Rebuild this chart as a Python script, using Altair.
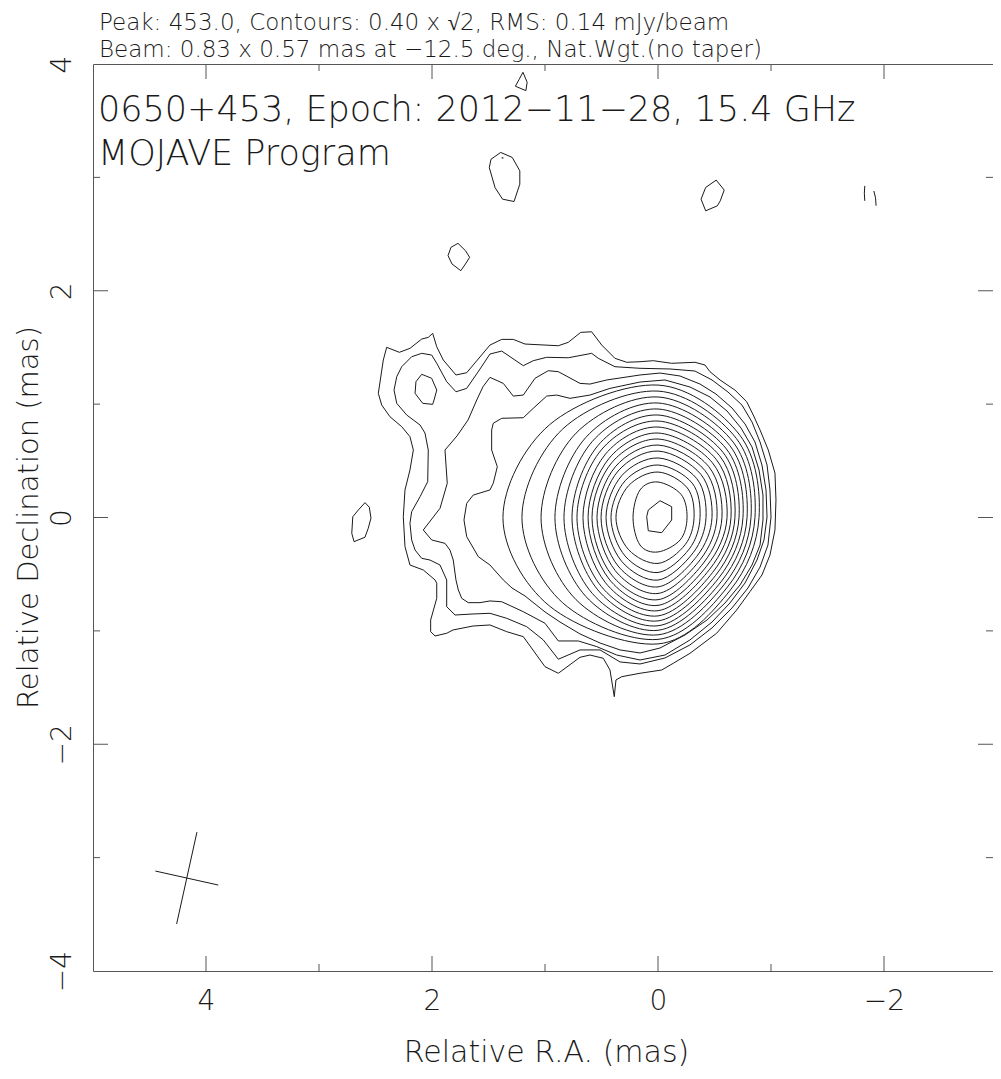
import math
import altair as alt
import pandas as pd

FONT = "DejaVu Sans"
INK = "#1a1a1a"
FRAME = "#555555"

# ---------------- text ----------------
title_lines = ["Peak: 453.0, Contours: 0.40 x \u221a2, RMS: 0.14 mJy/beam",
               "Beam: 0.83 x 0.57 mas at \u221212.5 deg., Nat.Wgt.(no taper)"]
inner_lines = ["0650+453, Epoch: 2012\u221211\u221228, 15.4 GHz", "MOJAVE Program"]

# ---------------- axes ----------------
x_major = [4, 2, 0, -2]
x_minor = [3, 1, -1]
y_major = [2, 0, -2]
y_minor = [3, 1, -1, -3]
y_labels = [4, 2, 0, -2, -4]

# ---------------- beam ----------------
beam_center = (4.17, -3.18)
beam_maj, beam_min, beam_pa = 0.83, 0.57, -12.5

# ---------------- irregular contours (mas) ----------------
c0_x = [2.475, 2.431, 2.401, 2.289, 2.195, 2.091, 2.033, 1.994, 1.958, 1.900, 1.788, 1.693, 1.487, 1.383, 1.281, 1.177,
        0.882, 0.794, 0.684, 0.587, 0.498, 0.381, 0.277, 0.159, 0.042, -0.121, -0.327, -0.416, -0.460, -0.549, -0.681,
        -0.785, -0.843, -0.903, -0.976, -1.035, -1.044, -1.035, -0.991, -0.920, -0.814, -0.696, -0.519, -0.283, -0.135,
        -0.033, 0.159, 0.321, 0.372, 0.387, 0.425, 0.484, 0.602, 0.690, 0.882, 1.000, 1.192, 1.339, 1.487, 1.637, 1.814,
        1.870, 1.973, 2.012, 2.012, 1.958, 1.958, 1.973, 2.077, 2.195, 2.239, 2.254, 2.239, 2.195, 2.165, 2.195, 2.268,
        2.372, 2.445]
c0_y = [1.095, 1.389, 1.501, 1.457, 1.492, 1.574, 1.589, 1.624, 1.506, 1.389, 1.257, 1.277, 1.521, 1.571, 1.571, 1.530,
        1.515, 1.545, 1.633, 1.638, 1.521, 1.404, 1.369, 1.374, 1.383, 1.360, 1.369, 1.345, 1.286, 1.213, 1.124,
        1.021, 0.904, 0.772, 0.595, 0.392, 0.154, -0.110, -0.331, -0.507, -0.654, -0.816, -1.021, -1.198, -1.286,
        -1.345, -1.374, -1.404, -1.433, -1.580, -1.345, -1.242, -1.213, -1.233, -1.374, -1.316, -1.051, -1.007, -0.948, -0.957, -0.992,
        -1.021, -1.045, -1.007, -0.904, -0.713, -0.580, -0.551, -0.463, -0.419, -0.257, 0.007, 0.243, 0.419, 0.595, 0.713, 0.801,
        0.889, 0.992]

c1_x = [2.336, 2.312, 2.268, 2.180, 2.091, 2.003, 1.958, 1.870, 1.788, 1.693, 1.593, 1.487, 1.383, 1.192, 1.104, 0.985,
        0.794, 0.587, 0.528, 0.381, 0.159, -0.106, -0.327, -0.478, -0.619, -0.743, -0.832, -0.903, -0.965, -0.991,
        -1.000, -0.973, -0.903, -0.796, -0.655, -0.478, -0.283, -0.062, 0.159, 0.336, 0.513, 0.690, 0.882, 1.015,
        1.162, 1.339, 1.487, 1.637, 1.796, 1.870, 1.870, 1.929, 2.018, 2.091, 2.150, 2.180, 2.195, 2.180, 2.106,
        2.038, 2.033, 2.062, 2.106, 2.224, 2.312]
c1_y = [1.124, 1.242, 1.330, 1.418, 1.448, 1.433, 1.360, 1.198, 1.109, 1.139, 1.283, 1.442, 1.468, 1.339, 1.383, 1.413,
        1.409, 1.448, 1.404, 1.330, 1.316, 1.310, 1.292, 1.213, 1.107, 0.992, 0.842, 0.666, 0.463, 0.243,
        0.004, -0.243, -0.437, -0.622, -0.798, -0.974, -1.124, -1.239, -1.292, -1.274, -1.168, -1.168, -1.250, -1.080,
        -0.963, -0.889, -0.845, -0.851, -0.860, -0.787, -0.551, -0.419, -0.375, -0.360, -0.287, -0.198, -0.051, 0.051, 0.183,
        0.316, 0.595, 0.745, 0.816, 0.904, 1.007]

c2_x = [1.885, 1.865, 1.929, 2.077, 2.003, 1.885, 1.841, 1.812, 1.788, 1.767, 1.737, 1.679, 1.575, 1.487, 1.383, 1.192,
        1.000, 0.882, 0.705, 0.542, 0.365, 0.159, -0.062, -0.283, -0.478, -0.637, -0.770, -0.876, -0.938, -0.965,
        -0.956, -0.920, -0.858, -0.770, -0.655, -0.513, -0.372, -0.195, -0.018, 0.159, 0.454, 0.602, 0.690, 0.882,
        0.971, 1.088, 1.192, 1.281, 1.369, 1.487, 1.549, 1.604, 1.681, 1.779]
c2_y = [0.595, 0.302, 0.081, -0.110, -0.198, -0.228, -0.287, -0.375, -0.551, -0.639, -0.713, -0.751, -0.751, -0.736, -0.743, -0.831,
        -0.933, -1.089, -1.089, -1.139, -1.213, -1.257, -1.213, -1.080, -0.922, -0.754, -0.578, -0.375, -0.198, 0.004,
        0.243, 0.463, 0.666, 0.825, 0.966, 1.089, 1.177, 1.248, 1.274, 1.257, 1.213, 1.177, 1.183, 1.286,
        1.295, 1.228, 1.080, 1.071, 1.183, 1.236, 1.153, 1.036, 0.860, 0.719]

c2b_x = [2.091, 2.003, 1.958, 1.982, 1.994, 2.082, 2.150, 2.142]
c2b_y = [1.263, 1.228, 1.124, 1.036, 0.998, 1.007, 1.095, 1.198]

c3_x = [1.472, 1.472, 1.458, 1.383, 1.192, 1.104, 0.985, 0.896, 0.779, 0.602, 0.425, 0.159, -0.062, -0.283, -0.460,
        -0.611, -0.735, -0.832, -0.894, -0.929, -0.929, -0.903, -0.832, -0.726, -0.593, -0.434, -0.239, -0.018, 0.159,
        0.336, 0.513, 0.690, 0.867, 1.000, 1.177, 1.292, 1.369, 1.487, 1.590, 1.693, 1.717, 1.693, 1.635, 1.487,
        1.458, 1.422]
c3_y = [0.595, 0.772, 0.831, 0.875, 0.880, 0.963, 1.071, 1.080, 1.051, 1.080, 1.139, 1.195, 1.213, 1.151, 1.063,
        0.939, 0.789, 0.622, 0.419, 0.198, -0.022, -0.243, -0.419, -0.595, -0.754, -0.904, -1.036, -1.151, -1.195,
        -1.168, -1.107, -1.027, -0.922, -0.833, -0.692, -0.622, -0.551, -0.419, -0.346, -0.169, -0.022, 0.125, 0.198, 0.243,
        0.302, 0.448]

# innermost peak contour
c20_x = [0.086, -0.018, -0.121, -0.121, -0.033, 0.086, 0.100]
c20_y = [0.066, 0.148, 0.095, -0.022, -0.134, -0.117, 0.007]

# isolated islands
isl1_x = [1.195, 1.158, 1.169, 1.262, 1.230]
isl1_y = [3.927, 3.839, 3.765, 3.804, 3.862]
isl2_x = [1.392, 1.290, 1.223, 1.223, 1.274, 1.376, 1.442, 1.493, 1.478]
isl2_y = [3.220, 3.176, 3.058, 2.940, 2.787, 2.808, 2.910, 3.086, 3.160]
isl3_x = [-0.515, -0.586, -0.551, -0.525, -0.422, -0.381, -0.422]
isl3_y = [2.976, 2.888, 2.793, 2.749, 2.705, 2.808, 2.911]
isl4_x = [1.770, 1.704, 1.667, 1.704, 1.745, 1.823, 1.858, 1.832]
isl4_y = [2.418, 2.354, 2.295, 2.236, 2.177, 2.236, 2.310, 2.383]
isl5_x = [2.593, 2.555, 2.540, 2.564, 2.593, 2.690, 2.710, 2.701, 2.652]
isl5_y = [0.131, 0.091, -0.006, -0.094, -0.174, -0.213, -0.139, 0.007, 0.066]
arc_a_x = [-1.830, -1.826, -1.830]
arc_a_y = [2.925, 2.860, 2.793]
arc_b_x = [-1.910, -1.925, -1.930]
arc_b_y = [2.880, 2.820, 2.750]

# regular nested contours C4..C19, eight points each read round the peak (mas)
inner_n = [1.168, 1.115, 1.063, 1.010, 0.957, 0.904, 0.851, 0.798, 0.745, 0.692, 0.639, 0.586, 0.525, 0.463, 0.401, 0.313]
inner_ne = [0.725, 0.695, 0.665, 0.635, 0.605, 0.575, 0.545, 0.514, 0.482, 0.449, 0.415, 0.380, 0.343, 0.303, 0.260, 0.204]
inner_e = [-0.894, -0.858, -0.823, -0.788, -0.752, -0.717, -0.681, -0.646, -0.611, -0.566, -0.522, -0.478, -0.425, -0.372,
           -0.319, -0.257]
inner_se = [0.640, 0.614, 0.588, 0.562, 0.536, 0.510, 0.484, 0.457, 0.430, 0.402, 0.373, 0.343, 0.311, 0.277, 0.240, 0.197]
inner_s = [-1.115, -1.075, -1.035, -0.995, -0.955, -0.912, -0.868, -0.822, -0.775, -0.725, -0.670, -0.612, -0.552, -0.485,
           -0.405, -0.304]
inner_sw_x = [0.960, 0.843, 0.725, 0.638, 0.582, 0.533, 0.502, 0.465, 0.433, 0.409, 0.378, 0.353, 0.322, 0.291, 0.260, 0.159]
inner_sw_y = [-0.781, -0.753, -0.725, -0.697, -0.669, -0.638, -0.608, -0.575, -0.543, -0.508, -0.469, -0.428, -0.386, -0.340,
              -0.284, -0.243]
inner_w = [1.372, 1.204, 1.035, 0.912, 0.832, 0.761, 0.717, 0.664, 0.619, 0.584, 0.540, 0.504, 0.460, 0.416, 0.372, 0.221]
inner_nw_x = [0.960, 0.843, 0.725, 0.638, 0.582, 0.533, 0.502, 0.465, 0.433, 0.409, 0.378, 0.353, 0.322, 0.291, 0.260, 0.159]
inner_nw_y = [0.818, 0.781, 0.744, 0.707, 0.670, 0.633, 0.596, 0.559, 0.522, 0.484, 0.447, 0.410, 0.368, 0.324, 0.281, 0.243]

# ---------------- tables ----------------
poly_rows = []


def add_poly(name, xs, ys, close=True):
    pts = list(zip(xs, ys))
    if close:
        pts.append(pts[0])
    for i, (px, py) in enumerate(pts):
        poly_rows.append({"cid": name, "i": i, "x": px, "y": py})


add_poly("c0", c0_x, c0_y)
add_poly("c1", c1_x, c1_y)
add_poly("c2", c2_x, c2_y)
add_poly("c2b", c2b_x, c2b_y)
add_poly("c3", c3_x, c3_y)
add_poly("c20", c20_x, c20_y)
add_poly("i1", isl1_x, isl1_y)
add_poly("i2", isl2_x, isl2_y)
add_poly("i3", isl3_x, isl3_y)
add_poly("i4", isl4_x, isl4_y)
add_poly("i5", isl5_x, isl5_y)
add_poly("aa", arc_a_x, arc_a_y, close=False)
add_poly("ab", arc_b_x, arc_b_y, close=False)
polys = pd.DataFrame(poly_rows)

smooth_rows = []
for k in range(len(inner_n)):
    pts = [(0.0, inner_n[k]), (-inner_ne[k], inner_ne[k]), (inner_e[k], 0.0), (-inner_se[k], -inner_se[k]),
           (0.0, inner_s[k]), (inner_sw_x[k], inner_sw_y[k]), (inner_w[k], 0.0), (inner_nw_x[k], inner_nw_y[k])]
    for i, (px, py) in enumerate(pts):
        smooth_rows.append({"cid": "s%d" % k, "i": i, "x": px, "y": py})
smooth = pd.DataFrame(smooth_rows)

dot = pd.DataFrame({"x": [1.376], "y": [3.172]})

cx, cy = beam_center
a = math.radians(beam_pa)
beam = pd.DataFrame({
    "x": [cx + beam_maj / 2 * math.sin(a), cx + beam_min / 2 * math.sin(a + math.pi / 2)],
    "y": [cy + beam_maj / 2 * math.cos(a), cy + beam_min / 2 * math.cos(a + math.pi / 2)],
    "x2": [cx - beam_maj / 2 * math.sin(a), cx - beam_min / 2 * math.sin(a + math.pi / 2)],
    "y2": [cy - beam_maj / 2 * math.cos(a), cy - beam_min / 2 * math.cos(a + math.pi / 2)],
})

W, H = 900, 907
MAJ, MIN = 15, 7
PX_PER_MAS = 113.0

xscale = alt.Scale(domain=[5, 5 - W / PX_PER_MAS], nice=False, zero=False)
yscale = alt.Scale(domain=[-4, 4], nice=False, zero=False)
X = alt.X("x:Q", scale=xscale,
          axis=alt.Axis(values=x_major, ticks=False, domain=False, grid=False, labelPadding=16,
                        labelFontSize=28, labelFont=FONT, labelColor=INK, labelFontWeight=200,
                        title="Relative R.A. (mas)", titleFont=FONT, titleFontSize=30, titleFontWeight=200,
                        titleColor=INK, titleX=453, titleY=90, titleBaseline="alphabetic", titleAlign="center",
                        labelExpr="replace(datum.label, '-', '\u2212')"))
Y = alt.Y("y:Q", scale=yscale,
          axis=alt.Axis(values=y_labels, ticks=False, domain=False, grid=False, labelAngle=270,
                        labelAlign="center", labelBaseline="alphabetic", labelPadding=23,
                        labelFontSize=28, labelFont=FONT, labelColor=INK, labelFontWeight=200,
                        title="Relative Declination (mas)", titleFont=FONT, titleFontSize=29,
                        titleFontWeight=200, titleColor=INK, titleAngle=270, titleX=-56, titleY=453,
                        titleBaseline="alphabetic", titleAlign="center",
                        labelExpr="replace(datum.label, '-', '\u2212')"))

line_poly = alt.Chart(polys).mark_line(color=INK, strokeWidth=1, interpolate="linear").encode(
    x=X, y=Y, detail="cid:N", order="i:Q")
line_smooth = alt.Chart(smooth).mark_line(color=INK, strokeWidth=1, interpolate="cardinal-closed").encode(
    x=X, y=Y, detail="cid:N", order="i:Q")
dot_layer = alt.Chart(dot).mark_point(shape="square", size=3, filled=True, color=INK).encode(x=X, y=Y)
beam_layer = alt.Chart(beam).mark_rule(color=INK, strokeWidth=1).encode(x=X, y=Y, x2="x2:Q", y2="y2:Q")

xt_major = pd.DataFrame({"x": x_major})
xt_minor = pd.DataFrame({"x": x_minor})
yt_major = pd.DataFrame({"y": y_major})
yt_minor = pd.DataFrame({"y": y_minor})


def xticks(df, length):
    bottom = alt.Chart(df).mark_rule(color=FRAME).encode(x=X, y=alt.value(H), y2=alt.value(H - length))
    top = alt.Chart(df).mark_rule(color=FRAME).encode(x=X, y=alt.value(0), y2=alt.value(length))
    return [bottom, top]


def yticks(df, length):
    left = alt.Chart(df).mark_rule(color=FRAME).encode(y=Y, x=alt.value(0), x2=alt.value(length))
    right = alt.Chart(df).mark_rule(color=FRAME).encode(y=Y, x=alt.value(W), x2=alt.value(W - length))
    return [left, right]


tick_layers = xticks(xt_major, MAJ) + xticks(xt_minor, MIN) + yticks(yt_major, MAJ) + yticks(yt_minor, MIN)


def text_layer(txt, px, py, size):
    return alt.Chart(pd.DataFrame({"t": [txt]})).mark_text(
        align="left", baseline="alphabetic", font=FONT, fontSize=size, color=INK, fontWeight=200
    ).encode(text="t:N", x=alt.value(px), y=alt.value(py))


texts = [
    text_layer(title_lines[0], 6, -34, 23),
    text_layer(title_lines[1], 6, -7, 23),
    text_layer(inner_lines[0], 5, 57, 35),
    text_layer(inner_lines[1], 5, 101, 35),
]

chart = alt.layer(line_poly, line_smooth, dot_layer, beam_layer, *tick_layers, *texts).properties(
    width=W, height=H, autosize=alt.AutoSizeParams(type="none"),
    padding={"left": 85, "top": 56, "right": 0, "bottom": 100}
).configure_view(stroke=FRAME, strokeWidth=1)

chart.save("out.html", embed_options={"renderer": "svg", "actions": False})
